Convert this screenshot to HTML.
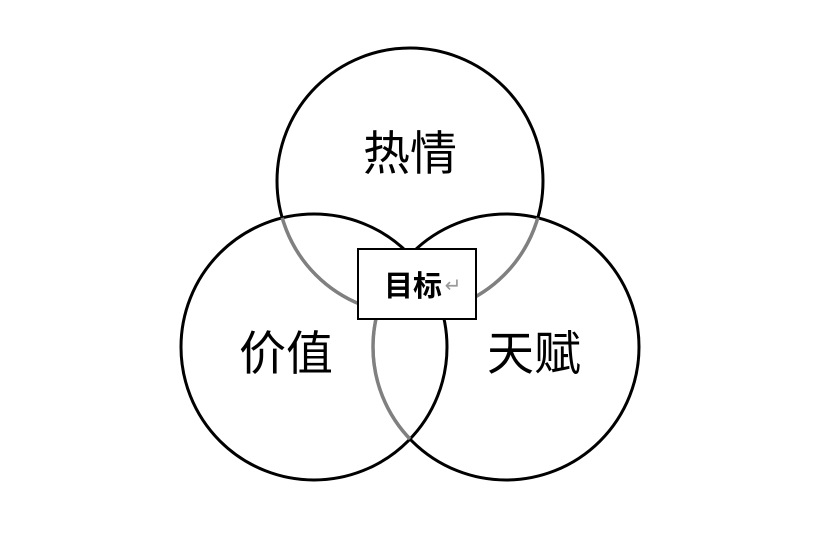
<!DOCTYPE html>
<html><head><meta charset="utf-8"><style>
body{margin:0;background:#fff;}
svg{display:block}
text{font-family:"Liberation Sans","Noto Sans CJK SC",sans-serif;}
</style></head><body>
<svg width="822" height="539" viewBox="0 0 822 539">
<defs>
<clipPath id="inL"><circle cx="314" cy="347" r="133"/></clipPath>
<clipPath id="inR"><circle cx="506" cy="347" r="133"/></clipPath>
</defs>
<g fill="none" stroke-width="3">
<circle cx="410" cy="181" r="133" stroke="#000"/>
<circle cx="314" cy="347" r="133" stroke="#000"/>
<circle cx="506" cy="347" r="133" stroke="#000"/>
<g stroke="#808080" stroke-width="3.5">
<circle cx="410" cy="181" r="133" clip-path="url(#inL)"/>
<circle cx="410" cy="181" r="133" clip-path="url(#inR)"/>
<circle cx="506" cy="347" r="133" clip-path="url(#inL)"/>
</g>
</g>
<rect x="358" y="249" width="118" height="70" fill="#fff" stroke="#000" stroke-width="2"/>
<text x="413" y="296" font-size="29" font-weight="bold" text-anchor="middle">目标</text>
<text x="453" y="292" font-size="20" fill="#999" text-anchor="middle">↵</text>
<text x="410" y="170" font-size="47" text-anchor="middle">热情</text>
<text x="286" y="370" font-size="47" text-anchor="middle">价值</text>
<text x="534" y="370" font-size="47" text-anchor="middle">天赋</text>
</svg>
</body></html>
